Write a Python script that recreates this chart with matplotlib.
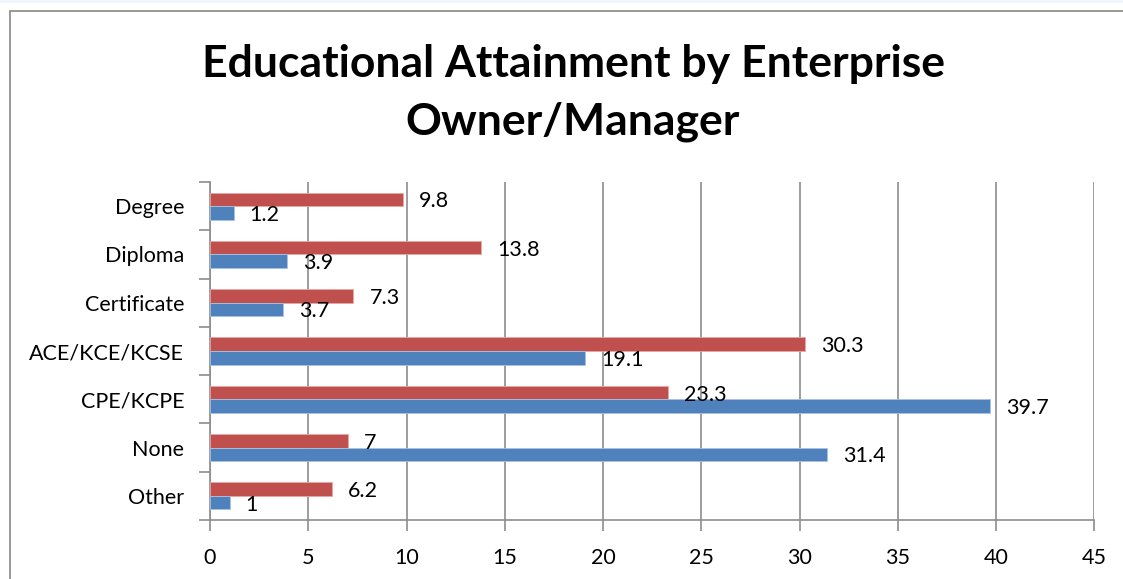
import matplotlib
matplotlib.use("Agg")
import matplotlib.pyplot as plt
from matplotlib.patches import Rectangle
import numpy as np

# Data (top to bottom as shown)
categories = ["Degree", "Diploma", "Certificate", "ACE/KCE/KCSE", "CPE/KCPE", "None", "Other"]
red_values = [9.8, 13.8, 7.3, 30.3, 23.3, 7, 6.2]
blue_values = [1.2, 3.9, 3.7, 19.1, 39.7, 31.4, 1]
x_ticks = [0, 5, 10, 15, 20, 25, 30, 35, 40, 45]

RED = "#C0504D"
BLUE = "#4F81BD"
GRID = "#8C8C8C"
FONT = "Lato"

W, H = 1123, 579
fig = plt.figure(figsize=(W / 100, H / 100), dpi=100)
fig.patch.set_facecolor("white")

# light strip at the very top + chart-area border (runs off right/bottom)
fig.patches.append(Rectangle((0, 1 - 3 / H), 1, 3 / H, transform=fig.transFigure,
                             facecolor="#EEF5FB", edgecolor="none", zorder=0))
fig.patches.append(Rectangle((10 / W, -0.1), 1.2, 1 - 11 / H + 0.1, transform=fig.transFigure,
                             facecolor="none", edgecolor="#888888", linewidth=1.2, zorder=1))

left, right, top, bottom = 210, 1094.3, 182, 520
ax = fig.add_axes([left / W, (H - bottom) / H, (right - left) / W, (bottom - top) / H])

n = len(categories)
y = np.arange(n)[::-1].astype(float)
h = 0.28
ax.barh(y + 0.14, red_values, height=h, color=RED, edgecolor="#E8A6A4", linewidth=0.6, zorder=3)
ax.barh(y - 0.14, blue_values, height=h, color=BLUE, edgecolor="#A9C2E2", linewidth=0.6, zorder=3)

# value labels to the right of each bar
for yi, v in zip(y, red_values):
    ax.annotate(f"{v:g}", (v, yi + 0.14), xytext=(16, -2), textcoords="offset pixels",
                ha="left", va="center", fontsize=15.5, family=FONT, color="black", zorder=4)
for yi, v in zip(y, blue_values):
    ax.annotate(f"{v:g}", (v, yi - 0.14), xytext=(16, -2), textcoords="offset pixels",
                ha="left", va="center", fontsize=15.5, family=FONT, color="black", zorder=4)

ax.set_xlim(0, 45)
ax.set_ylim(-0.5, n - 0.5)
ax.set_xticks(x_ticks)
ax.set_xticklabels([str(t) for t in x_ticks], fontsize=15.5, family=FONT)
ax.set_yticks(y)
ax.set_yticklabels(categories, fontsize=15.5, family=FONT)
ax.set_yticks(np.arange(n + 1) - 0.5, minor=True)
ax.tick_params(axis="y", which="major", length=0, pad=18.5)
ax.tick_params(axis="y", which="minor", length=8, width=1.2, color=GRID)
ax.tick_params(axis="x", which="major", length=8, width=1.2, color=GRID, pad=12)

ax.xaxis.grid(True, color=GRID, linewidth=1.2, zorder=0)
ax.set_axisbelow(True)
for s in ["top", "right"]:
    ax.spines[s].set_visible(False)
for s in ["left", "bottom"]:
    ax.spines[s].set_color(GRID)
    ax.spines[s].set_linewidth(1.2)

fig.text(573 / W, 1 - 64 / H, "Educational Attainment by Enterprise", ha="center", va="center",
         fontsize=32, fontweight="bold", family=FONT)
fig.text(573 / W, 1 - 122 / H, "Owner/Manager", ha="center", va="center",
         fontsize=32, fontweight="bold", family=FONT)

fig.savefig("out.png", dpi=100)
